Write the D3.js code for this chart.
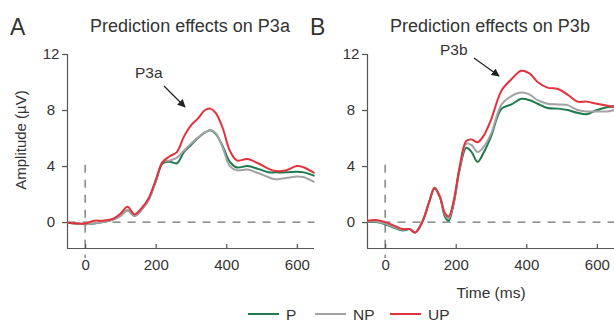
<!DOCTYPE html>
<html>
<head>
<meta charset="utf-8">
<script src="https://cdn.jsdelivr.net/npm/d3@7"></script>
<style>
body { margin: 0; background: #fff; }
text { font-family: "Liberation Sans", Arial, sans-serif; fill: #333; }
</style>
</head>
<body>
<svg id="chart" width="614" height="325"></svg>
<script>
// data (ms, microvolts)
var timeA = [-50, -25, 0, 25, 50, 75, 100, 120, 140, 160, 180, 200, 220, 240, 260, 280, 300, 320, 340, 355, 370, 390, 410, 430, 460, 490, 520, 540, 570, 600, 620, 650];
var p3a_P  = [-0.05, -0.1, -0.15, -0.1, 0.0, 0.15, 0.45, 0.85, 0.45, 0.9, 1.6, 2.9, 4.2, 4.3, 4.2, 5.0, 5.5, 6.0, 6.4, 6.55, 6.3, 5.4, 4.3, 3.9, 4.0, 3.8, 3.55, 3.55, 3.55, 3.6, 3.55, 3.3];
var p3a_NP = [-0.05, -0.1, -0.15, -0.1, 0.0, 0.15, 0.45, 0.85, 0.45, 0.9, 1.6, 2.9, 4.3, 4.4, 4.6, 5.1, 5.6, 6.05, 6.4, 6.55, 6.35, 5.3, 4.0, 3.7, 3.75, 3.5, 3.2, 3.05, 3.15, 3.25, 3.2, 2.85];
var p3a_UP = [-0.05, -0.1, -0.1, 0.1, 0.1, 0.2, 0.6, 1.1, 0.55, 1.0, 1.7, 3.0, 4.3, 4.7, 5.0, 6.1, 6.9, 7.4, 8.0, 8.1, 7.8, 6.7, 5.1, 4.4, 4.5, 4.2, 3.8, 3.65, 3.7, 4.0, 3.9, 3.5];

var timeB = [-50, -25, 0, 25, 50, 70, 85, 105, 125, 140, 155, 170, 180, 195, 210, 230, 245, 262, 280, 300, 330, 358, 386, 410, 432, 460, 490, 517, 545, 571, 600, 630, 650];
var p3b_P  = [0.05, 0.0, -0.15, -0.4, -0.6, -0.5, -0.75, 0.0, 1.45, 2.4, 1.8, 0.35, 0.1, 1.4, 3.6, 5.3, 5.0, 4.3, 5.0, 6.1, 8.1, 8.4, 8.8, 8.7, 8.45, 8.15, 8.1, 8.0, 7.8, 7.7, 8.0, 8.2, 8.3];
var p3b_NP = [0.05, 0.05, -0.1, -0.35, -0.55, -0.5, -0.75, 0.0, 1.45, 2.45, 1.85, 0.5, 0.25, 1.5, 3.7, 5.6, 5.5, 5.0, 5.4, 6.3, 8.4, 9.0, 9.25, 9.1, 8.7, 8.45, 8.4, 8.35, 8.0, 7.9, 7.9, 7.9, 8.0];
var p3b_UP = [0.1, 0.15, 0.0, -0.25, -0.5, -0.5, -0.75, 0.0, 1.45, 2.45, 1.8, 0.6, 0.4, 1.6, 3.8, 5.8, 5.9, 5.7, 6.2, 7.3, 9.4, 10.2, 10.8, 10.6, 10.0, 9.6, 9.5, 9.1, 8.6, 8.6, 8.45, 8.3, 8.2];

var conditions = ['P', 'NP', 'UP'];
var colors = ['#1d7a4e', '#a3a3a3', '#e2323c'];
var xTicks = [0, 200, 400, 600];
var yTicks = [0, 4, 8, 12];

var svg = d3.select('#chart');

function drawPanel(left, letter, title, peakLabel, labelPos, arrow, time, series) {
    var x = d3.scaleLinear().domain([-50, 650]).range([left + 0.5, left + 247.5]);
    var y = d3.scaleLinear().domain([-1.85, 12]).range([248, 54]);
    var g = svg.append('g');

    // dashed reference lines
    g.append('line')
	.attr('x1', x(-50)).attr('x2', x(650))
	.attr('y1', y(0)).attr('y2', y(0))
	.attr('stroke', '#707070').attr('stroke-width', 1.3)
	.attr('stroke-dasharray', '8,7');
    g.append('line')
	.attr('x1', x(0)).attr('x2', x(0))
	.attr('y1', y(4.1)).attr('y2', 258)
	.attr('stroke', '#707070').attr('stroke-width', 1.3)
	.attr('stroke-dasharray', '8,7');

    // axes
    var yAxis = g.append('g')
	.attr('transform', 'translate(' + left + ',0)')
	.call(d3.axisLeft(y).tickValues(yTicks).tickSize(5).tickPadding(4).tickSizeOuter(0));
    var xAxis = g.append('g')
	.attr('transform', 'translate(0,248)')
	.call(d3.axisBottom(x).tickValues(xTicks).tickSize(-4).tickPadding(11).tickSizeOuter(0));
    [yAxis, xAxis].forEach(function(a) {
	a.selectAll('path, line').attr('stroke', '#555').attr('stroke-width', 1.2);
	a.selectAll('text').style('font-size', '15px').attr('fill', '#333');
    });
    // y labels sit centred a little left of the ticks
    yAxis.selectAll('text').attr('text-anchor', 'middle').attr('x', -16);
    yAxis.select('.domain').attr('d', 'M0.5,' + y(12) + 'V248');
    xAxis.select('.domain').attr('d', 'M' + left + ',0.5H' + (left + 247));

    // curves
    var line = d3.line()
	.x(function(d, i) { return x(time[i]); })
	.y(function(d) { return y(d); })
	.curve(d3.curveCatmullRom.alpha(0.5));
    series.forEach(function(s, i) {
	g.append('path')
	    .attr('d', line(s))
	    .attr('fill', 'none')
	    .attr('stroke', colors[i])
	    .attr('stroke-width', 2)
	    .attr('stroke-linejoin', 'round');
    });

    // titles and annotation
    g.append('text').attr('x', left - 57).attr('y', 35)
	.style('font-size', '23px').text(letter);
    g.append('text').attr('x', left + 123).attr('y', 32)
	.attr('text-anchor', 'middle').style('font-size', '18px').text(title);
    g.append('text').attr('x', labelPos[0]).attr('y', labelPos[1])
	.style('font-size', '15.5px').text(peakLabel);
    g.append('line')
	.attr('x1', arrow[0]).attr('y1', arrow[1]).attr('x2', arrow[2]).attr('y2', arrow[3])
	.attr('stroke', '#222').attr('stroke-width', 1.2)
	.attr('marker-end', 'url(#arrowhead)');
    return x;
}

svg.append('defs').append('marker')
    .attr('id', 'arrowhead')
    .attr('viewBox', '0 0 10 10')
    .attr('refX', 9).attr('refY', 5)
    .attr('markerWidth', 8).attr('markerHeight', 8)
    .attr('markerUnits', 'userSpaceOnUse')
    .attr('orient', 'auto')
    .append('path').attr('d', 'M0,0L10,5L0,10z').attr('fill', '#222');

drawPanel(67, 'A', 'Prediction effects on P3a', 'P3a', [135, 78], [164, 86, 185, 107], timeA, [p3a_P, p3a_NP, p3a_UP]);
drawPanel(367, 'B', 'Prediction effects on P3b', 'P3b', [440, 55], [474, 58, 499, 76], timeB, [p3b_P, p3b_NP, p3b_UP]);

// axis titles
svg.append('text')
    .attr('transform', 'translate(26,140) rotate(-90)')
    .attr('text-anchor', 'middle').style('font-size', '15px')
    .text('Amplitude (\u00b5V)');
svg.append('text')
    .attr('x', 491).attr('y', 298)
    .attr('text-anchor', 'middle').style('font-size', '15.5px')
    .text('Time (ms)');

// legend
var legendX = [248, 315, 390];
var legend = svg.append('g').selectAll('g').data(conditions).enter().append('g')
    .attr('transform', function(d, i) { return 'translate(' + legendX[i] + ',314)'; });
legend.append('line')
    .attr('x1', 0).attr('x2', 31).attr('y1', 0).attr('y2', 0)
    .attr('stroke', function(d, i) { return colors[i]; })
    .attr('stroke-width', 2);
legend.append('text')
    .attr('x', 38).attr('y', 5.5)
    .style('font-size', '15.5px')
    .text(function(d) { return d; });
</script>
</body>
</html>
